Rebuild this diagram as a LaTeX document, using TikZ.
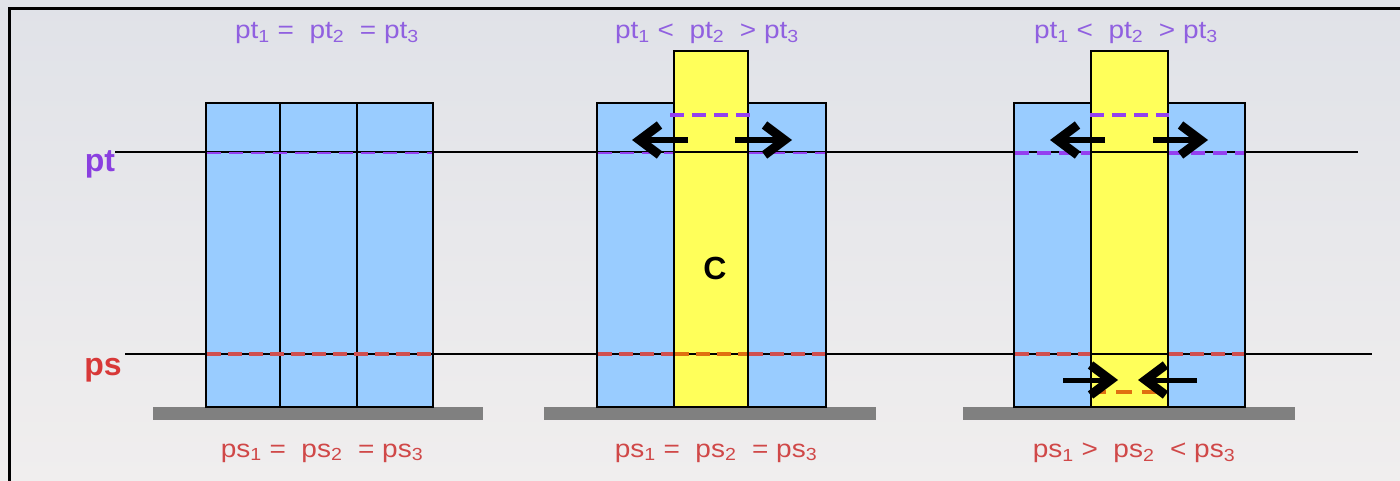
\documentclass[tikz,border=0pt]{standalone}
\usepackage{fontspec}
\setmainfont{Liberation Sans}
\usetikzlibrary{arrows.meta}
\definecolor{colblue}{HTML}{99CCFF}
\definecolor{colyellow}{HTML}{FFFF5A}
\definecolor{groundgray}{HTML}{808080}
\definecolor{ptpurple}{HTML}{8A3FE0}
\definecolor{toppurple}{HTML}{9060E0}
\definecolor{psred}{HTML}{D83838}
\definecolor{botred}{HTML}{D04848}
\definecolor{dashpurple}{HTML}{9440F0}
\definecolor{dashred}{HTML}{D05050}
\definecolor{dashorange}{HTML}{E07010}
\definecolor{bgtop}{HTML}{E0E2E8}
\definecolor{bgbot}{HTML}{F0EEEE}
\tikzset{
  bluebox/.style={draw=black, line width=2.6pt, fill=colblue},
  yellowbox/.style={draw=black, line width=2.6pt, fill=colyellow},
  ground/.style={fill=groundgray},
  levelline/.style={draw=black, line width=2.6pt},
  ptdash/.style={draw=dashpurple, line width=3.5pt, dash pattern=on 14pt off 8pt},
  psdash/.style={draw=dashred, line width=3.5pt, dash pattern=on 14pt off 7pt},
  orangedash/.style={draw=dashorange, line width=3.5pt, dash pattern=on 14pt off 7pt},
  bigarrow/.style={draw=black, line width=6pt, -{Straight Barb[length=20pt,width=30pt,line width=9pt 0]}},
  toptext/.style={text=toppurple, font=\fontsize{25}{28}\selectfont, inner sep=0pt},
  bottext/.style={text=botred, font=\fontsize{25}{28}\selectfont, inner sep=0pt},
}
\newcommand{\sbs}[1]{\textsubscript{#1}}
\newcommand{\wide}[1]{\scalebox{1.12}[1]{#1}}
\begin{document}
\begin{tikzpicture}[x=1pt,y=-1pt]
\useasboundingbox (0,0) rectangle (1400,481);
\shade[top color=bgtop, bottom color=bgbot] (0,0) rectangle (1400,481);
\draw[line width=3pt] (9,481) -- (9,8.5) -- (1400,8.5);

% ground bars
\fill[ground] (153,407) rectangle (483,420);
\fill[ground] (544,407) rectangle (876,420);
\fill[ground] (963,407) rectangle (1295,420);

% panel 1
\draw[bluebox] (206,103) rectangle (280,407);
\draw[bluebox] (280,103) rectangle (357,407);
\draw[bluebox] (357,103) rectangle (433,407);

% panel 2
\draw[bluebox] (597,103) rectangle (826,407);
\draw[yellowbox] (674,51) rectangle (748,407);
\node[font=\fontsize{32}{32}\selectfont\bfseries, inner sep=0pt] (c) at (715,268) {C};

% panel 3
\draw[bluebox] (1014,103) rectangle (1245,407);
\draw[yellowbox] (1091,51) rectangle (1168,407);

% level lines
\coordinate (ptL) at (115,152);
\coordinate (ptR) at (1358,152);
\coordinate (psL) at (125,354);
\coordinate (psR) at (1372,354);
\draw[levelline] (ptL) -- (ptR);
\draw[levelline] (psL) -- (psR);

% pt dashes
\draw[ptdash, line width=2.5pt] (207,153) -- (432,153);
\draw[ptdash, line width=2.5pt] (598,153) -- (673,153);
\draw[ptdash, line width=2.5pt] (749,153) -- (825,153);
\draw[ptdash] (670,115) -- (752,115);
\draw[ptdash] (1015,153) -- (1090,153);
\draw[ptdash] (1169,153) -- (1244,153);
\draw[ptdash] (1090,115) -- (1169,115);

% ps dashes
\draw[psdash] (207,354) -- (432,354);
\draw[psdash] (598,354) -- (673,354);
\draw[orangedash] (675,354) -- (747,354);
\draw[psdash] (749,354) -- (825,354);
\draw[psdash] (1015,354) -- (1090,354);
\draw[psdash] (1169,354) -- (1244,354);
\draw[orangedash, dash pattern=on 16pt off 10pt, dash phase=4pt] (1094,392) -- (1166,392);

% arrows
\coordinate (a1s) at (688,140); \coordinate (a1e) at (632,140);
\coordinate (a2s) at (735,140); \coordinate (a2e) at (792,140);
\coordinate (a3s) at (1105,140); \coordinate (a3e) at (1050,140);
\coordinate (a4s) at (1153,140); \coordinate (a4e) at (1208,140);
\coordinate (a5s) at (1063,380); \coordinate (a5e) at (1118,380);
\coordinate (a6s) at (1197,380); \coordinate (a6e) at (1138,380);
\draw[bigarrow] (a1s) -- (a1e);
\draw[bigarrow] (a2s) -- (a2e);
\draw[bigarrow] (a3s) -- (a3e);
\draw[bigarrow] (a4s) -- (a4e);
\draw[bigarrow, line width=5pt] (a5s) -- (a5e);
\draw[bigarrow, line width=5pt] (a6s) -- (a6e);

% side labels
\node[text=ptpurple, font=\fontsize{32}{32}\selectfont\bfseries, inner sep=0pt, anchor=base] (ptlab) at (100,172) {pt};
\node[text=psred, font=\fontsize{32}{32}\selectfont\bfseries, inner sep=0pt, anchor=base] (pslab) at (103,375) {ps};

% top texts
\node[toptext] (t1) at (327,33) {\wide{pt\sbs{1} =\ \ pt\sbs{2} \ = pt\sbs{3}}};
\node[toptext] (t2) at (707,33) {\wide{pt\sbs{1} <\ \ pt\sbs{2} \ > pt\sbs{3}}};
\node[toptext] (t3) at (1126,33) {\wide{pt\sbs{1} <\ \ pt\sbs{2} \ > pt\sbs{3}}};

% bottom texts
\node[bottext] (b1) at (322,453) {\wide{ps\sbs{1} =\ \ ps\sbs{2} \ = ps\sbs{3}}};
\node[bottext] (b2) at (716,453) {\wide{ps\sbs{1} =\ \ ps\sbs{2} \ = ps\sbs{3}}};
\node[bottext] (b3) at (1134,453) {\wide{ps\sbs{1} >\ \ ps\sbs{2} \ < ps\sbs{3}}};
\end{tikzpicture}
\end{document}
